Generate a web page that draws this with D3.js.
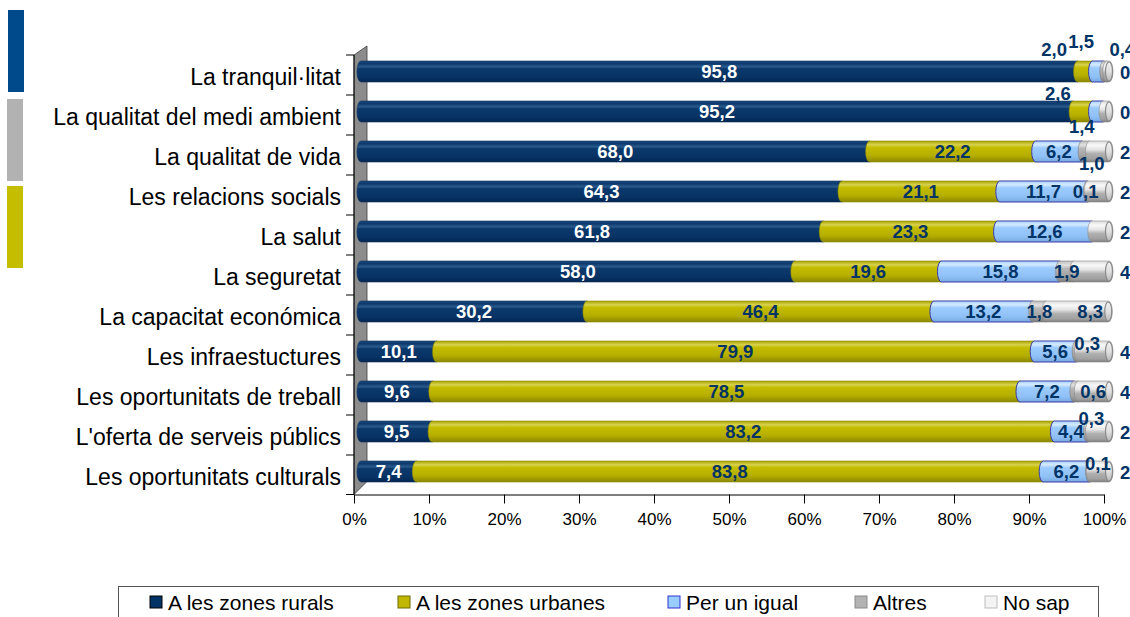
<!DOCTYPE html>
<html>
<head>
<meta charset="utf-8">
<script src="https://cdn.jsdelivr.net/npm/d3@7"></script>
<style>
  html, body { margin: 0; padding: 0; background: #ffffff; }
  svg { display: block; }
  text { font-family: "Liberation Sans", Arial, sans-serif; }
</style>
</head>
<body>
<svg id="chart" width="1130" height="617"></svg>
<script>
// ---------- DATA ----------
const categories = [
  "La tranquil·litat",
  "La qualitat del medi ambient",
  "La qualitat de vida",
  "Les relacions socials",
  "La salut",
  "La seguretat",
  "La capacitat económica",
  "Les infraestuctures",
  "Les oportunitats de treball",
  "L'oferta de serveis públics",
  "Les oportunitats culturals"
];
const seriesNames = ["A les zones rurals", "A les zones urbanes", "Per un igual", "Altres", "No sap"];
const rural   = [95.8, 95.2, 68.0, 64.3, 61.8, 58.0, 30.2, 10.1, 9.6, 9.5, 7.4];
const urbanes = [2.0, 2.6, 22.2, 21.1, 23.3, 19.6, 46.4, 79.9, 78.5, 83.2, 83.8];
const igual   = [1.5, 1.4, 6.2, 11.7, 12.6, 15.8, 13.2, 5.6, 7.2, 4.4, 6.2];
const altres  = [0.4, 0.0, 1.0, 0.1, 0.0, 1.9, 1.8, 0.3, 0.6, 0.3, 0.1];
const noSap   = [0.3, 0.8, 2.6, 2.8, 2.3, 4.7, 8.3, 4.1, 4.1, 2.6, 2.5];
const xTicks  = [0, 10, 20, 30, 40, 50, 60, 70, 80, 90, 100];

// ---------- STYLE ----------
const series = [rural, urbanes, igual, altres, noSap];
const styles = [
  { id: "g0", stroke: "#0a2f5a", label: "#ffffff",
    stops: [[0,"#1d4a7c"],[0.12,"#0d3b6f"],[0.28,"#2b5a8c"],[0.36,"#0c3a6d"],[0.8,"#063163"],[1,"#022650"]], sw: "#003366" },
  { id: "g1", stroke: "#8f8a00", label: "#003366",
    stops: [[0,"#a8a200"],[0.18,"#d8d250"],[0.3,"#c4bd00"],[0.7,"#b5ae00"],[1,"#8c8700"]], sw: "#c0b800" },
  { id: "g2", stroke: "#3b3ba6", label: "#003366",
    stops: [[0,"#a9d3ff"],[0.18,"#d4eaff"],[0.32,"#9dcbff"],[0.75,"#8fc0f5"],[1,"#76a8e0"]], sw: "#99ccff" },
  { id: "g3", stroke: "#7a7a7a", label: "#003366",
    stops: [[0,"#bdbdbd"],[0.2,"#e2e2e2"],[0.35,"#b8b8b8"],[0.75,"#a0a0a0"],[1,"#7c7c7c"]], sw: "#b3b3b3" },
  { id: "g4", stroke: "#8a8a8a", label: "#003366",
    stops: [[0,"#dcdcdc"],[0.2,"#f8f8f8"],[0.4,"#e6e6e6"],[0.6,"#b0b0b0"],[0.85,"#a0a0a0"],[1,"#7e7e7e"]], sw: "#f4f4f4" }
];
// label nudges for small segments: "row,series" -> [dx, dy]
const nudges = {
  "0,1": [-31,-22], "0,2": [-17,-30], "0,3": [17,-22],
  "1,1": [-25,-18], "1,2": [-16,15],
  "2,3": [6,12], "3,3": [-2,0], "6,4": [13,0],
  "7,3": [10,-8], "8,3": [17,0], "9,3": [3,-13], "10,3": [8,-8]
};

const svg = d3.select("#chart");
const defs = svg.append("defs");
styles.forEach(s => {
  const g = defs.append("linearGradient").attr("id", s.id)
    .attr("x1", 0).attr("y1", 0).attr("x2", 0).attr("y2", 1);
  s.stops.forEach(([o, c]) => g.append("stop").attr("offset", o).attr("stop-color", c));
});
const capG = defs.append("linearGradient").attr("id", "cap")
  .attr("x1", 0).attr("y1", 0).attr("x2", 0).attr("y2", 1);
[[0,"#f0f0f0"],[0.5,"#e0e0e0"],[1,"#b8b8b8"]].forEach(([o,c]) => capG.append("stop").attr("offset", o).attr("stop-color", c));

// left decoration blocks
svg.append("rect").attr("x", 8).attr("y", 10).attr("width", 16).attr("height", 82).attr("fill", "#004a8c");
svg.append("rect").attr("x", 7).attr("y", 99).attr("width", 16).attr("height", 82).attr("fill", "#b2b2b2");
svg.append("rect").attr("x", 7).attr("y", 186).attr("width", 16).attr("height", 82).attr("fill", "#c4bd00");

// scales
const xa = d3.scaleLinear().domain([0, 100]).range([354, 1104]);   // front (axis) plane
const xs = d3.scaleLinear().domain([0, 100]).range([361, 1109]);   // bar plane
const yb = d3.scaleBand().domain(categories).range([55, 495]).padding(0);
const barH = 21, rx = 4, depthY = 3.5;
const cy = c => yb(c) + yb.bandwidth() / 2 - depthY;

// wall
const wallTop = yb.range()[0], axisY = 494.5;
svg.append("path")
  .attr("d", `M354,${wallTop} L367,${wallTop - 9} L367,${axisY - 13} L354,${axisY} Z`)
  .attr("fill", "#8c8c8c").attr("stroke", "#3a3a3a").attr("stroke-width", 0.8);

// axes
const xAxis = d3.axisBottom(xa).tickValues(xTicks).tickFormat(d => d + "%").tickSize(9).tickSizeOuter(0);
const gx = svg.append("g").attr("transform", `translate(0,${axisY})`).call(xAxis);
gx.select(".domain").attr("stroke", "#000");
gx.selectAll(".tick line").attr("stroke", "#000");
gx.selectAll(".tick text").attr("font-size", 17).attr("fill", "#000").attr("dy", "1.1em")
  .style("font-family", '"Liberation Sans", Arial, sans-serif');

const yAxis = d3.axisLeft(yb).tickSize(0).tickSizeOuter(0);
const gy = svg.append("g").attr("transform", "translate(354,0)").call(yAxis);
gy.select(".domain").attr("stroke", "#000").attr("d", `M0,${wallTop}V${axisY}`);
gy.selectAll(".tick text").attr("font-size", 23).attr("fill", "#000").attr("x", -13).attr("dy", "0.42em")
  .style("font-family", '"Liberation Sans", Arial, sans-serif');
// category separator ticks
const sepY = categories.map(c => yb(c)).concat([yb.range()[1]]);
svg.append("g").selectAll("line").data(sepY).join("line")
  .attr("x1", 346).attr("x2", 354).attr("y1", d => Math.min(d, axisY)).attr("y2", d => Math.min(d, axisY))
  .attr("stroke", "#000");

// bars
const segPath = (x0, x1, c) => {
  const t = c - barH / 2, b = c + barH / 2, r = barH / 2;
  return `M${x0},${t} L${x1},${t} A${rx},${r} 0 0 1 ${x1},${b} L${x0},${b} A${rx},${r} 0 0 1 ${x0},${t} Z`;
};
const rows = categories.map((c, i) => {
  let acc = 0;
  const segs = series.map((s, k) => {
    const v = s[i]; const a = acc; acc += v;
    return { row: i, k, v, x0: a, x1: acc };
  });
  return { c, i, segs, total: acc };
});
const gb = svg.append("g");
rows.forEach(r => {
  const y = cy(r.c);
  r.segs.forEach(s => {
    if (s.v <= 0) return;
    gb.append("path").attr("d", segPath(xs(s.x0), xs(s.x1), y))
      .attr("fill", `url(#${styles[s.k].id})`)
      .attr("stroke", styles[s.k].stroke).attr("stroke-width", s.k === 2 ? 1 : 0.6);
  });
  gb.append("ellipse").attr("cx", xs(r.total)).attr("cy", y).attr("rx", rx - 0.5).attr("ry", barH / 2 - 0.8)
    .attr("fill", "url(#cap)").attr("stroke", "#8a8a8a").attr("stroke-width", 1.2);
});

// labels
const fmt = v => v.toFixed(1).replace(".", ",");
const gl = svg.append("g");
rows.forEach(r => {
  const y = cy(r.c);
  r.segs.forEach(s => {
    if (s.v <= 0) return;
    let x = (xs(s.x0) + xs(s.x1)) / 2, yy = y, anchor = "middle";
    if (s.k === 4 && s.v < 5) { x = xs(100) + 11; anchor = "start"; yy = y + 1; }
    const n = nudges[`${s.row},${s.k}`];
    if (n) { x += n[0]; yy += n[1]; }
    gl.append("text").attr("x", x).attr("y", yy).attr("dy", "0.36em")
      .attr("text-anchor", anchor).attr("font-size", 18.5).attr("font-weight", "bold")
      .attr("fill", styles[s.k].label).text(fmt(s.v));
  });
});

// legend
svg.append("rect").attr("x", 118.5).attr("y", 586.5).attr("width", 980).attr("height", 45)
  .attr("fill", "none").attr("stroke", "#555").attr("stroke-width", 1);
const legX = [150, 398, 668, 855, 985];
const lg = svg.append("g").selectAll("g").data(seriesNames).join("g")
  .attr("transform", (d, i) => `translate(${legX[i]},596)`);
lg.append("rect").attr("width", 12).attr("height", 12)
  .attr("fill", (d, i) => styles[i].sw)
  .attr("stroke", (d, i) => ["#000","#6e6a00","#3333cc","#8a8a8a","#bdbdbd"][i]).attr("stroke-width", 1);
lg.append("text").attr("x", 18).attr("y", 6).attr("dy", "0.36em").attr("font-size", 21).attr("fill", "#000").text(d => d);
</script>
</body>
</html>
